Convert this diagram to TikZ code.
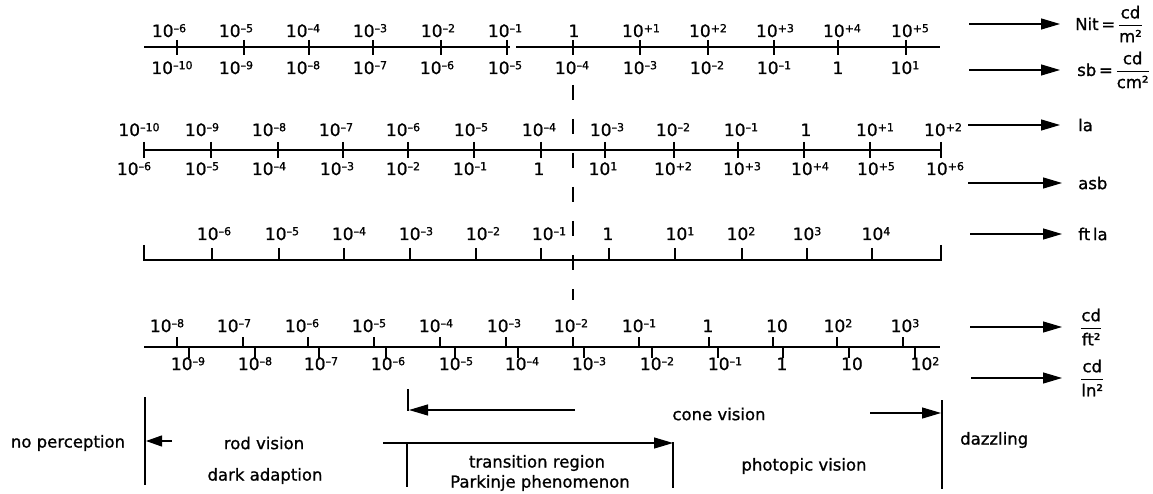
\documentclass[tikz,border=0pt]{standalone}
\usepackage{amsmath}
\usepackage{fontspec}
\setmainfont{DejaVu Sans}[UprightFeatures={FakeBold=1.0}]
\usetikzlibrary{arrows.meta}
\newcommand\ngx[1]{10\raisebox{4.8pt}{\fontsize{11}{11}\selectfont\textendash#1}}
\newcommand\psx[1]{10\raisebox{4.8pt}{\fontsize{11}{11}\selectfont+#1}}
\newcommand\plx[1]{10\raisebox{4.8pt}{\fontsize{11}{11}\selectfont#1}}
\newcommand\frc[2]{$\genfrac{}{}{1.2pt}{0}{\text{#1}}{\text{#2}}$}
\tikzset{
  axis/.style={line width=1.9pt},
  tk/.style={line width=1.9pt},
  lab/.style={font=\fontsize{17}{19}\selectfont, inner sep=0pt, anchor=base},
  txt/.style={font=\fontsize{16.5}{18}\selectfont, inner sep=0pt},
  unit/.style={font=\fontsize{16.5}{18}\selectfont, inner sep=0pt, anchor=west},
  uarr/.style={line width=1.2pt, -{Triangle[length=19pt,width=11pt]}},
  sarr/.style={line width=1.2pt, -{Triangle[length=16pt,width=11pt]}},
  bar/.style={line width=1.9pt},
  dsh/.style={line width=1.9pt, dash pattern=on 15pt off 19pt}
}
\begin{document}
\begin{tikzpicture}[x=1pt,y=-1pt]
\useasboundingbox (0,0) rectangle (1153,494);
\fill[white] (0,0) rectangle (1153,494);

% ---------- row 1 : Nit / sb ----------
\coordinate (r1a) at (144,47); \coordinate (r1g) at (510,47);
\coordinate (r1h) at (516,47); \coordinate (r1b) at (940,47);
\draw[axis] (r1a) -- (r1g); \draw[axis] (r1h) -- (r1b);
\foreach \x in {177,244,309,373,441,507,573,640,708,774,838,906}
  \draw[tk] (\x,40) -- (\x,55);
\foreach \x/\t [count=\i] in {169/\ngx{6},236/\ngx{5},303/\ngx{4},370/\ngx{3},438/\ngx{2},505/\ngx{1},574/1,641/\psx{1},708/\psx{2},775/\psx{3},842/\psx{4},910/\psx{5}}
  \node[lab] (t1-\i) at (\x,37) {\t};
\foreach \x/\t [count=\i] in {172/\ngx{10},236/\ngx{9},303/\ngx{8},370/\ngx{7},437/\ngx{6},505/\ngx{5},572/\ngx{4},640/\ngx{3},707/\ngx{2},774/\ngx{1},838/1,905/\plx{1}}
  \node[lab] (b1-\i) at (\x,74) {\t};

% ---------- row 3 : la / asb ----------
\coordinate (r3a) at (144,150); \coordinate (r3b) at (941,150);
\draw[axis] (r3a) -- (r3b);
\foreach \x in {144,211,278,343,408,474,541,605,674,738,804,870,941}
  \draw[tk] (\x,142) -- (\x,158);
\foreach \x/\t [count=\i] in {139/\ngx{10},202/\ngx{9},269/\ngx{8},336/\ngx{7},403/\ngx{6},471/\ngx{5},539/\ngx{4},607/\ngx{3},673/\ngx{2},741/\ngx{1},806/1,875/\psx{1},943/\psx{2}}
  \node[lab] (t3-\i) at (\x,136) {\t};
\foreach \x/\t [count=\i] in {134/\ngx{6},202/\ngx{5},269/\ngx{4},337/\ngx{3},403/\ngx{2},470/\ngx{1},539/1,603/\plx{1},673/\psx{2},742/\psx{3},810/\psx{4},876/\psx{5},945/\psx{6}}
  \node[lab] (b3-\i) at (\x,175) {\t};

% ---------- row 5 : ft la ----------
\coordinate (r5a) at (144,260); \coordinate (r5b) at (941,260);
\draw[axis] (r5a) -- (r5b);
\draw[tk] (144,245) -- (144,261);
\draw[tk] (941,245) -- (941,261);
\foreach \x in {212,279,344,410,476,541,609,675,742,807,872}
  \draw[tk] (\x,248) -- (\x,260);
\foreach \x/\t [count=\i] in {214/\ngx{6},282/\ngx{5},349/\ngx{4},416/\ngx{3},483/\ngx{2},549/\ngx{1},608/1,680/\plx{1},741/\plx{2},807/\plx{3},876/\plx{4}}
  \node[lab] (t5-\i) at (\x,240) {\t};

% ---------- row 6 : cd/ft2, cd/in2 ----------
\coordinate (r6a) at (144,347); \coordinate (r6b) at (940,347);
\draw[axis] (r6a) -- (r6b);
\foreach \x in {177,243,308,374,440,506,573,639,709,773,837,903}
  \draw[tk] (\x,337) -- (\x,347);
\foreach \x in {189,255,319,386,455,518,584,652,718,783,849,915}
  \draw[tk] (\x,347) -- (\x,358);
\foreach \x/\t [count=\i] in {167/\ngx{8},234/\ngx{7},302/\ngx{6},369/\ngx{5},436/\ngx{4},504/\ngx{3},571/\ngx{2},639/\ngx{1},708/1,777/10,838/\plx{2},905/\plx{3}}
  \node[lab] (t6-\i) at (\x,332) {\t};
\foreach \x/\t [count=\i] in {188/\ngx{9},255/\ngx{8},321/\ngx{7},388/\ngx{6},456/\ngx{5},522/\ngx{4},589/\ngx{3},657/\ngx{2},725/\ngx{1},782/1,852/10,925/\plx{2}}
  \node[lab] (b6-\i) at (\x,370) {\t};

% ---------- dashed reference line ----------
\coordinate (da) at (573,85); \coordinate (db) at (573,300);
\draw[dsh] (da) -- (db);

% ---------- unit labels on the right ----------
\node[unit] (nit) at (1075,24) {Nit\,=\,\frc{cd}{m²}};
\node[unit] (sb) at (1077,70) {sb\,=\,\frc{cd}{cm²}};
\node[unit] (la) at (1078,125) {la};
\node[unit] (asb) at (1078,183) {asb};
\node[unit] (ftla) at (1078,234) {ft\,la};
\node[unit] (cdft) at (1080,327) {\frc{cd}{ft²}};
\node[unit] (cdin) at (1080,378) {\frc{cd}{ln²}};
\coordinate (s1) at (969,24);  \draw[uarr] (s1) -- (nit.west -| 1060,0);
\coordinate (s2) at (969,70);  \draw[uarr] (s2) -- (sb.west -| 1060,0);
\coordinate (s3) at (968,125); \draw[uarr] (s3) -- (la.west -| 1060,0);
\coordinate (s4) at (968,183); \draw[uarr] (s4) -- (asb.west -| 1062,0);
\coordinate (s5) at (970,234); \draw[uarr] (s5) -- (ftla.west -| 1062,0);
\coordinate (s6) at (970,327); \draw[uarr] (s6) -- (cdft.west -| 1062,0);
\coordinate (s7) at (971,378); \draw[uarr] (s7) -- (cdin.west -| 1062,0);

% ---------- bottom: vision regions ----------
\coordinate (np1) at (145,397); \coordinate (np2) at (145,485);
\draw[bar] (np1) -- (np2);
\coordinate (npa) at (172,441); \coordinate (npb) at (146,441);
\draw[sarr] (npa) -- (npb);
\node[txt] (noperc) at (68,443) {no perception};
\node[txt] (rod) at (264,443) {rod vision};
\node[txt] (dark) at (265,476) {dark adaption};

% cone vision bracket
\coordinate (cl1) at (408,389); \coordinate (cl2) at (408,411);
\draw[bar] (cl1) -- (cl2);
\coordinate (cva) at (575,410); \coordinate (cvb) at (409,410);
\draw[uarr] (cva) -- (cvb);
\node[txt] (cone) at (719,414) {cone vision};
\coordinate (cwa) at (870,413); \coordinate (cwb) at (941,413);
\draw[uarr] (cwa) -- (cwb);
\coordinate (dz1) at (942,400); \coordinate (dz2) at (942,489);
\draw[bar] (dz1) -- (dz2);
\node[txt,anchor=west] (dazz) at (960,440) {dazzling};

% transition region
\coordinate (tra) at (383,443); \coordinate (trb) at (673,443);
\draw[uarr] (tra) -- (trb);
\coordinate (tl1) at (407,443); \coordinate (tl2) at (407,487);
\draw[bar] (tl1) -- (tl2);
\coordinate (tr1) at (673,442); \coordinate (tr2) at (673,488);
\draw[bar] (tr1) -- (tr2);
\node[txt] (trans) at (537,463) {transition region};
\node[txt] (park) at (540,483) {Parkinje phenomenon};
\node[txt] (phot) at (804,466) {photopic vision};
\end{tikzpicture}
\end{document}
